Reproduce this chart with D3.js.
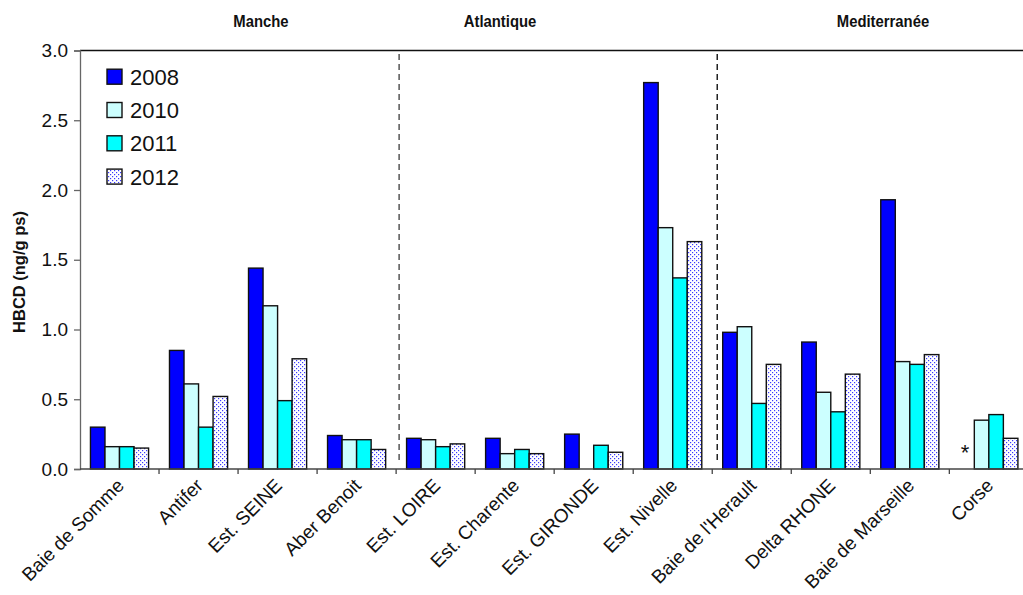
<!DOCTYPE html>
<html>
<head>
<meta charset="utf-8">
<script src="https://cdn.jsdelivr.net/npm/d3@7"></script>
<style>
  html, body { margin: 0; padding: 0; background: #fff; }
  svg { display: block; font-family: "Liberation Sans", Arial, sans-serif; }
</style>
</head>
<body>
<svg id="chart" width="1023" height="595"></svg>
<script>
// HBCD concentrations (ng/g dry weight) by site and year
const sites = ["Baie de Somme", "Antifer", "Est. SEINE", "Aber Benoit", "Est. LOIRE", "Est. Charente",
               "Est. GIRONDE", "Est. Nivelle", "Baie de l'Herault", "Delta RHONE", "Baie de Marseille", "Corse"];
const years = ["2008", "2010", "2011", "2012"];
const v2008 = [0.30, 0.85, 1.44, 0.24, 0.22, 0.22, 0.25, 2.77, 0.98, 0.91, 1.93, null];
const v2010 = [0.16, 0.61, 1.17, 0.21, 0.21, 0.11, null, 1.73, 1.02, 0.55, 0.77, 0.35];
const v2011 = [0.16, 0.30, 0.49, 0.21, 0.16, 0.14, 0.17, 1.37, 0.47, 0.41, 0.75, 0.39];
const v2012 = [0.15, 0.52, 0.79, 0.14, 0.18, 0.11, 0.12, 1.63, 0.75, 0.68, 0.82, 0.22];
const yTicks = [0, 0.5, 1.0, 1.5, 2.0, 2.5, 3.0];
const regions = ["Manche", "Atlantique", "Mediterranée"];
const yLabel = "HBCD (ng/g ps)";

const seriesValues = [v2008, v2010, v2011, v2012];
const fills = ["#0000ff", "#ccffff", "#00ffff", "url(#dots)"];

const svg = d3.select("#chart");
const margin = { left: 80, top: 50.5, bottom: 469 };
const step = 79.03;

const x0 = d3.scaleBand().domain(sites).range([margin.left, margin.left + step * sites.length]).padding(0);
const x1 = d3.scaleBand().domain(years).range([0, x0.bandwidth()]).paddingInner(0).paddingOuter(0.72);
const y = d3.scaleLinear().domain([0, 3]).range([margin.bottom, margin.top]);

// dotted fill for the 2012 series
const defs = svg.append("defs");
const pat = defs.append("pattern").attr("id", "dots").attr("patternUnits", "userSpaceOnUse")
  .attr("width", 4).attr("height", 4);
pat.append("rect").attr("width", 4).attr("height", 4).attr("fill", "#ffffff");
pat.append("rect").attr("x", 0).attr("y", 0).attr("width", 1.2).attr("height", 1.2).attr("fill", "#3a3aff");
pat.append("rect").attr("x", 2).attr("y", 2).attr("width", 1.2).attr("height", 1.2).attr("fill", "#3a3aff");

// top frame line
svg.append("line").attr("x1", margin.left).attr("x2", 1023)
  .attr("y1", y(3)).attr("y2", y(3)).attr("stroke", "#111").attr("stroke-width", 1.5);

// bars
const barData = [];
sites.forEach((s, i) => {
  years.forEach((yr, j) => {
    const v = seriesValues[j][i];
    if (v != null) barData.push({ site: s, year: yr, value: v, fill: fills[j] });
  });
});
svg.append("g").selectAll("rect").data(barData).join("rect")
  .attr("x", d => x0(d.site) + x1(d.year))
  .attr("y", d => y(d.value))
  .attr("width", x1.bandwidth())
  .attr("height", d => y(0) - y(d.value))
  .attr("fill", d => d.fill)
  .attr("stroke", "#111")
  .attr("stroke-width", 1.4);

// missing 2008 value at Corse
svg.append("text")
  .attr("x", x0("Corse") + x1("2008") + x1.bandwidth() / 2 - 2)
  .attr("y", y(0) - 9)
  .attr("text-anchor", "middle")
  .attr("font-size", 22)
  .attr("fill", "#111")
  .text("*");

// y axis
const yAxis = d3.axisLeft(y).tickValues(yTicks).tickFormat(d3.format(".1f")).tickSize(6).tickPadding(6);
const gy = svg.append("g").attr("transform", `translate(${margin.left},0)`).call(yAxis);
gy.select(".domain").attr("stroke", "#666").attr("stroke-width", 1.3);
gy.selectAll(".tick line").attr("stroke", "#666").attr("stroke-width", 1.3);
gy.selectAll(".tick text").attr("font-size", 19).attr("fill", "#111").attr("font-family", "Liberation Sans, Arial, sans-serif");

// x baseline and category boundary ticks
svg.append("line").attr("x1", margin.left).attr("x2", 1023)
  .attr("y1", y(0)).attr("y2", y(0)).attr("stroke", "#444").attr("stroke-width", 1.3);
svg.append("g").selectAll("line").data(sites.slice(1)).join("line")
  .attr("x1", d => x0(d)).attr("x2", d => x0(d))
  .attr("y1", y(0)).attr("y2", y(0) + 5)
  .attr("stroke", "#444").attr("stroke-width", 1.3);

// category labels, rotated
svg.append("g").selectAll("text").data(sites).join("text")
  .attr("transform", d => `translate(${x0(d) + x0.bandwidth() / 2 + 1},${y(0) + 13}) rotate(-45)`)
  .attr("text-anchor", "end")
  .attr("dy", "0.35em")
  .attr("font-size", 19)
  .attr("fill", "#111")
  .text(d => d);

// region separators
const separators = [{ site: "Est. LOIRE", dx: 3 }, { site: "Baie de l'Herault", dx: 5 }];
svg.append("g").selectAll("line").data(separators).join("line")
  .attr("x1", d => x0(d.site) + d.dx).attr("x2", d => x0(d.site) + d.dx)
  .attr("y1", 54).attr("y2", 460)
  .attr("stroke", (d, i) => i === 0 ? "#555" : "#222")
  .attr("stroke-width", 1.5)
  .attr("stroke-dasharray", "6,4");

// region titles
const titleX = [261, 500, 883];
svg.append("g").selectAll("text").data(regions).join("text")
  .attr("transform", (d, i) => `translate(${titleX[i]},27) scale(0.9,1)`)
  .attr("text-anchor", "middle")
  .attr("font-size", 16.5)
  .attr("font-weight", "bold")
  .attr("fill", "#111")
  .text(d => d);

// y axis title
svg.append("text")
  .attr("transform", "translate(25,272) rotate(-90)")
  .attr("text-anchor", "middle")
  .attr("font-size", 16.5)
  .attr("font-weight", "bold")
  .attr("fill", "#111")
  .text(yLabel);

// legend
const legend = svg.append("g");
years.forEach((yr, j) => {
  const cy = 76.7 + j * 33.3;
  legend.append("rect").attr("x", 107).attr("y", cy - 7.5).attr("width", 15).attr("height", 15)
    .attr("fill", fills[j]).attr("stroke", "#111").attr("stroke-width", 1.4);
  legend.append("text").attr("x", 130).attr("y", cy).attr("dy", "0.36em")
    .attr("font-size", 22).attr("fill", "#111").text(yr);
});
</script>
</body>
</html>
